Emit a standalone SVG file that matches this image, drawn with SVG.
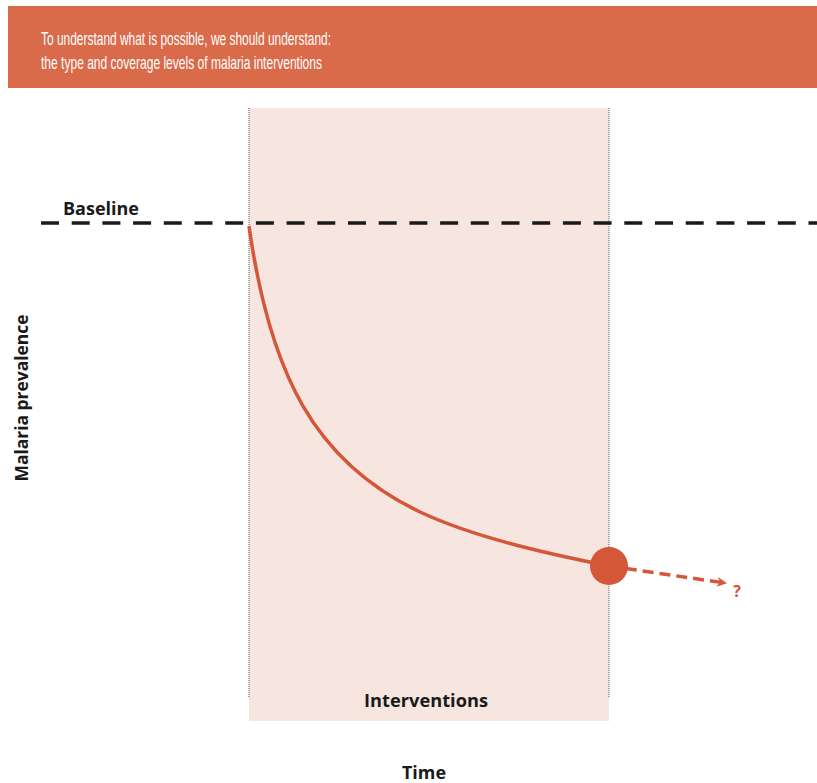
<svg xmlns="http://www.w3.org/2000/svg" width="817" height="783" viewBox="0 0 817 783">
<style>
.hdr{font-family:"Liberation Sans","Open Sans",sans-serif;font-size:18.5px;fill:#ffffff}
.lbl{font-family:"Open Sans","Liberation Sans",sans-serif;font-size:17px;font-weight:bold;fill:#1a1a1a}
.vline{stroke:#555;stroke-width:1;stroke-dasharray:1 1;fill:none}
</style>
<defs>
<marker id="ah" markerWidth="10" markerHeight="10" refX="8" refY="5" orient="auto" markerUnits="userSpaceOnUse">
<path d="M0,0 L10,5 L0,10 L3,5 Z" fill="#d4573a"/>
</marker>
</defs>
<rect width="817" height="783" fill="#ffffff"/>
<g id="header">
<rect x="8" y="6" width="809" height="82" fill="#d96a4a"/>
<text class="hdr" x="41" y="45" textLength="290" lengthAdjust="spacingAndGlyphs">To understand what is possible, we should understand:</text>
<text class="hdr" x="41" y="69" textLength="281" lengthAdjust="spacingAndGlyphs">the type and coverage levels of malaria interventions</text>
</g>
<g id="interventions">
<rect x="249" y="108" width="360" height="613" fill="#f7e5df"/>
<line class="vline" x1="249" y1="108" x2="249" y2="697"/>
<line class="vline" x1="609" y1="108" x2="609" y2="697"/>
<text class="lbl" x="426" y="707" text-anchor="middle" textLength="124" lengthAdjust="spacingAndGlyphs">Interventions</text>
</g>
<g id="baseline">
<line x1="41" y1="223" x2="817" y2="223" stroke="#1a1a1a" stroke-width="3.5" stroke-dasharray="18 12.7"/>
<text class="lbl" x="63" y="215" textLength="76" lengthAdjust="spacingAndGlyphs">Baseline</text>
</g>
<g id="axes">
<text class="lbl" x="424" y="779" text-anchor="middle" textLength="44" lengthAdjust="spacingAndGlyphs">Time</text>
<text class="lbl" transform="translate(28,398) rotate(-90)" text-anchor="middle" textLength="167" lengthAdjust="spacingAndGlyphs">Malaria prevalence</text>
</g>
<g id="connectors">
<path d="M249,226 C270,375 315,462 420,512 C480,540 560,556 609,566" fill="none" stroke="#d4573a" stroke-width="3.5"/>
<line x1="609" y1="566" x2="725" y2="583" stroke="#d4573a" stroke-width="3.5" stroke-dasharray="11 6" marker-end="url(#ah)"/>
</g>
<g id="endpoint">
<circle cx="609" cy="566" r="19" fill="#d4573a"/>
<text x="737" y="597" text-anchor="middle" font-family="Open Sans, Liberation Sans, sans-serif" font-size="16" font-weight="bold" fill="#d4573a">?</text>
</g>
</svg>
